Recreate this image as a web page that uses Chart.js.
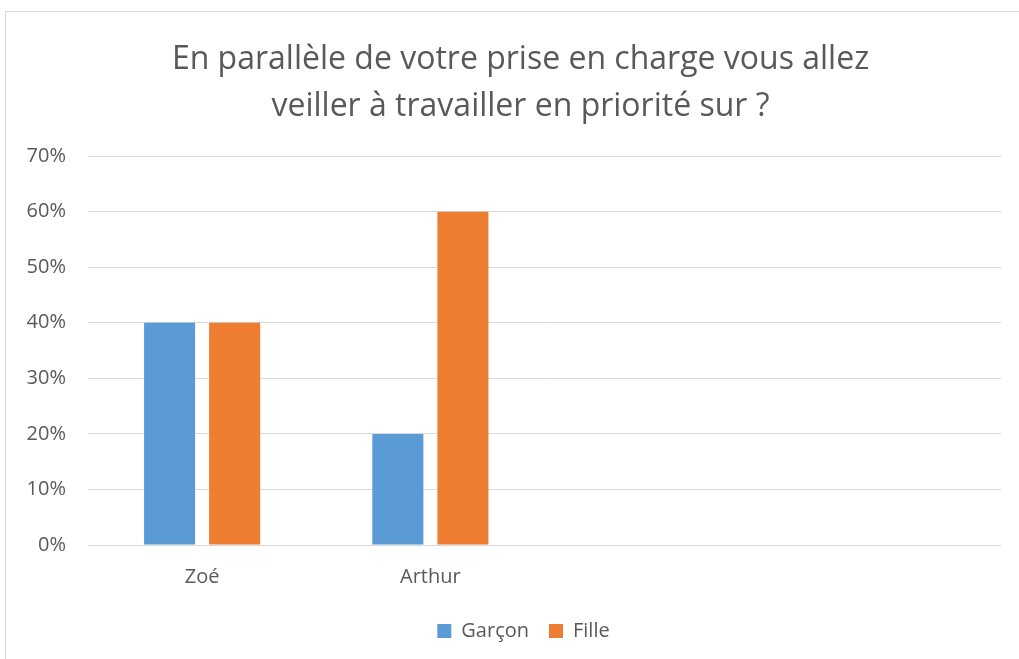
<!DOCTYPE html>
<html><head><meta charset="utf-8">
<script src="https://cdn.jsdelivr.net/npm/chart.js@4"></script>
<style>
html,body{margin:0;padding:0;background:#fff;overflow:hidden;}
#frame{position:absolute;left:5px;top:11px;width:1200px;height:800px;border:1px solid #d9d9d9;box-sizing:border-box;}
#wrap{position:absolute;left:0;top:0;width:1019px;height:659px;}
</style></head>
<body>
<div id="frame"></div>
<div id="wrap"><canvas id="c" width="1019" height="659"></canvas></div>
<script>
const categories = ["Zoé", "Arthur", "", ""];
const garcon = [0.40, 0.20, null, null];
const fille = [0.40, 0.60, null, null];
const titleLines = ["En parallèle de votre prise en charge vous allez", "veiller à travailler en priorité sur ?"];
const FONT = "Open Sans";

const shiftBoxes = {
  id: 'shiftBoxes',
  afterLayout(chart) {
    if (chart.titleBlock) { chart.titleBlock.left += 20; chart.titleBlock.right += 20; }
    if (chart.legend) { chart.legend.left += 23; chart.legend.right += 23; }
  }
};

new Chart(document.getElementById('c'), {
  type: 'bar',
  data: {
    labels: categories,
    datasets: [
      {label: 'Garçon', data: garcon, backgroundColor: '#5b9bd5', categoryPercentage: 0.57, barPercentage: 0.785},
      {label: 'Fille', data: fille, backgroundColor: '#ed7d31', categoryPercentage: 0.57, barPercentage: 0.785}
    ]
  },
  plugins: [shiftBoxes],
  options: {
    responsive: false,
    animation: false,
    layout: {padding: {left: 0, right: 18, top: 36, bottom: 8}},
    plugins: {
      title: {display: true, text: titleLines, color: '#595959',
        font: {family: FONT, size: 32, weight: 'normal', lineHeight: 1.47}, padding: {top: 0, bottom: 26}},
      legend: {position: 'bottom',
        labels: {color: '#595959', font: {family: FONT, size: 20}, boxWidth: 14, boxHeight: 14, padding: 20}},
      tooltip: {enabled: false}
    },
    scales: {
      x: {grid: {display: false}, border: {display: false},
        ticks: {color: '#595959', font: {family: FONT, size: 20}, padding: 12}},
      y: {min: 0, max: 0.7,
        afterFit: (a) => { a.width = 88; },
        grid: {color: '#d9d9d9', lineWidth: 1, drawTicks: false}, border: {display: false},
        ticks: {stepSize: 0.1, color: '#595959', font: {family: FONT, size: 20}, padding: 22,
          callback: v => Math.round(v * 100) + '%'}}
    }
  }
});
</script>
</body></html>
